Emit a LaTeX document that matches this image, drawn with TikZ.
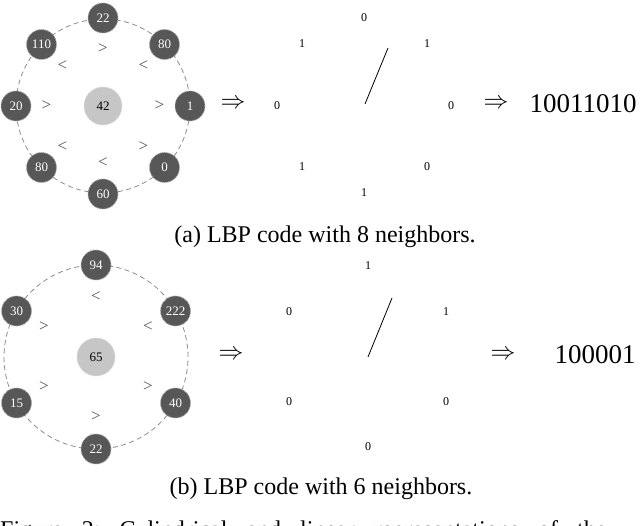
\documentclass[tikz,border=0pt]{standalone}
\usepackage{fontspec}
\setmainfont{Liberation Serif}
\definecolor{nodedark}{HTML}{575757}
\definecolor{nodeedge}{HTML}{A8A8A8}
\definecolor{ctrfill}{HTML}{C6C6C6}
\definecolor{ctredge}{HTML}{DADADA}
\definecolor{ringgray}{HTML}{8C8C8C}
\definecolor{cmpgray}{HTML}{555555}
\tikzset{
  nb/.style={circle, fill=nodedark, draw=nodeedge, densely dotted, line width=0.9pt,
    minimum size=30pt, inner sep=0pt, text=white, font=\fontsize{13}{13}\selectfont},
  ctr/.style={circle, fill=ctrfill, draw=ctredge, densely dotted, line width=0.9pt,
    minimum size=38pt, inner sep=0pt, text=black, font=\fontsize{13}{13}\selectfont},
  cmp/.style={text=cmpgray, inner sep=0pt, font=\fontsize{17}{17}\selectfont},
  bit/.style={inner sep=0pt, font=\fontsize{12}{12}\selectfont},
  ring/.style={draw=ringgray, dash pattern=on 5pt off 3.5pt, line width=0.8pt},
  hand/.style={draw=black, line width=0.8pt},
  arr/.style={inner sep=0pt, font=\fontsize{31}{31}\selectfont},
  codetxt/.style={inner sep=0pt, font=\fontsize{27}{27}\selectfont},
  capt/.style={inner sep=0pt, anchor=base, font=\fontsize{24}{24}\selectfont},
}
\begin{document}
\begin{tikzpicture}[x=1pt, y=-1pt]
\useasboundingbox (0,0) rectangle (640,526);
\clip (0,0) rectangle (640,526);
% ---------- (a) 8 neighbors ----------
\draw[ring] (103,106) circle[radius=87pt];
\node[ctr] (a42) at (103,106) {42};
\node[nb] (a22)  at (103,18)  {22};
\node[nb] (a110) at (41.5,44.5) {110};
\node[nb] (a80)  at (164.5,44.5) {80};
\node[nb] (a20)  at (16,106)  {20};
\node[nb] (a1)   at (190,106) {1};
\node[nb] (a80b) at (41.5,167.5) {80};
\node[nb] (a0)   at (164.5,167.5) {0};
\node[nb] (a60)  at (103,194) {60};
\node[cmp] (ca1) at (103,49) {>};
\node[cmp] (ca2) at (62.5,65.5) {<};
\node[cmp] (ca3) at (143.5,65.5) {<};
\node[cmp] (ca4) at (46.5,106) {>};
\node[cmp] (ca5) at (159.5,106) {>};
\node[cmp] (ca6) at (62.5,146.5) {<};
\node[cmp] (ca7) at (143.5,146.5) {>};
\node[cmp] (ca8) at (103,162.5) {<};
\node[arr] (ra1) at (233,104) {$\Rightarrow$};
\node[bit] (ba1) at (364,18) {0};
\node[bit] (ba2) at (302,44) {1};
\node[bit] (ba3) at (427,44) {1};
\node[bit] (ba4) at (277,106) {0};
\node[bit] (ba5) at (451,106) {0};
\node[bit] (ba6) at (302,167) {1};
\node[bit] (ba7) at (427,167) {0};
\node[bit] (ba8) at (364,193) {1};
\coordinate (ha0) at (365,104);
\coordinate (ha1) at (388,48);
\draw[hand] (ha0) -- (ha1);
\node[arr] (ra2) at (496,104) {$\Rightarrow$};
\node[codetxt] (codea) at (583,104) {10011010};
\node[capt] (capa) at (325,243) {(a) LBP code with 8 neighbors.};
% ---------- (b) 6 neighbors ----------
\draw[ring] (96,357) circle[radius=92pt];
\node[ctr] (b65) at (96,357) {65};
\node[nb] (b94)  at (96,265) {94};
\node[nb] (b30)  at (16.5,311) {30};
\node[nb] (b222) at (175.5,311) {222};
\node[nb] (b15)  at (16.5,403) {15};
\node[nb] (b40)  at (175.5,403) {40};
\node[nb] (b22)  at (96,449) {22};
\node[cmp] (cb1) at (96,297) {<};
\node[cmp] (cb2) at (44,327) {>};
\node[cmp] (cb3) at (148,327) {<};
\node[cmp] (cb4) at (44,387) {>};
\node[cmp] (cb5) at (148,387) {>};
\node[cmp] (cb6) at (96,417) {>};
\node[arr] (rb1) at (231,355) {$\Rightarrow$};
\node[bit] (bb1) at (368,266) {1};
\node[bit] (bb2) at (289,312) {0};
\node[bit] (bb3) at (446,312) {1};
\node[bit] (bb4) at (289,402) {0};
\node[bit] (bb5) at (446,402) {0};
\node[bit] (bb6) at (368,447) {0};
\coordinate (hb0) at (368,357);
\coordinate (hb1) at (392,298);
\draw[hand] (hb0) -- (hb1);
\node[arr] (rb2) at (503,355) {$\Rightarrow$};
\node[codetxt] (codeb) at (595,355) {100001};
\node[capt] (capb) at (321,494) {(b) LBP code with 6 neighbors.};
% ---------- figure caption (cut off at the bottom edge) ----------
\node[capt, anchor=base west] (figcap) at (0,537) {\spaceskip=19pt\xspaceskip=19pt Figure 2: Cylindrical and linear representations of the};
\end{tikzpicture}
\end{document}
